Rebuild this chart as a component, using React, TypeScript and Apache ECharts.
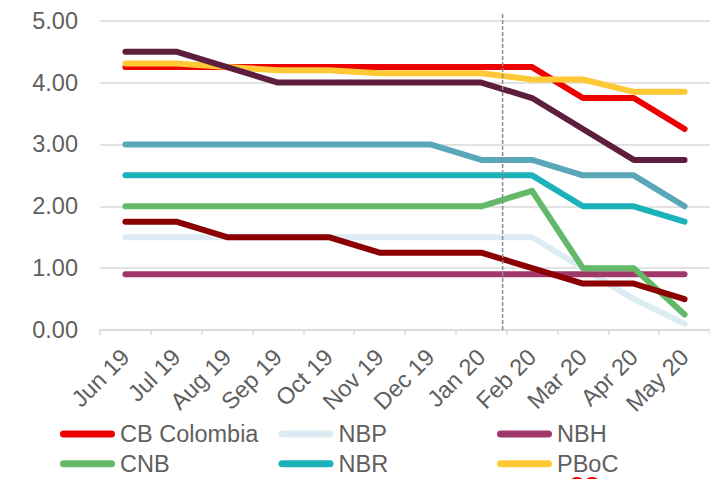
import React, { useEffect, useRef } from "react";
import * as echarts from "echarts";

const categories = ["Jun 19", "Jul 19", "Aug 19", "Sep 19", "Oct 19", "Nov 19", "Dec 19", "Jan 20", "Feb 20", "Mar 20", "Apr 20", "May 20"];
const yTicks = [0, 1, 2, 3, 4, 5];

const cbColombia = [4.25, 4.25, 4.25, 4.25, 4.25, 4.25, 4.25, 4.25, 4.25, 3.75, 3.75, 3.25];
const nbp = [1.5, 1.5, 1.5, 1.5, 1.5, 1.5, 1.5, 1.5, 1.5, 1.0, 0.5, 0.1];
const nbh = [0.9, 0.9, 0.9, 0.9, 0.9, 0.9, 0.9, 0.9, 0.9, 0.9, 0.9, 0.9];
const cnb = [2.0, 2.0, 2.0, 2.0, 2.0, 2.0, 2.0, 2.0, 2.25, 1.0, 1.0, 0.25];
const nbr = [2.5, 2.5, 2.5, 2.5, 2.5, 2.5, 2.5, 2.5, 2.5, 2.0, 2.0, 1.75];
const pboc = [4.31, 4.31, 4.25, 4.2, 4.2, 4.15, 4.15, 4.15, 4.05, 4.05, 3.85, 3.85];
const bsp = [4.5, 4.5, 4.25, 4.0, 4.0, 4.0, 4.0, 4.0, 3.75, 3.25, 2.75, 2.75];
const bnm = [3.0, 3.0, 3.0, 3.0, 3.0, 3.0, 3.0, 2.75, 2.75, 2.5, 2.5, 2.0];
const bot = [1.75, 1.75, 1.5, 1.5, 1.5, 1.25, 1.25, 1.25, 1.0, 0.75, 0.75, 0.5];

const dividerPosition = 7.92; // in category-width units from the axis start
const dividerTop = 5.125;

const seriesDefs = [
  { name: "CB Colombia", data: cbColombia, color: "#EE0000" },
  { name: "NBP", data: nbp, color: "#DDEBF2" },
  { name: "NBH", data: nbh, color: "#A0386A" },
  { name: "CNB", data: cnb, color: "#64B968" },
  { name: "NBR", data: nbr, color: "#1BB2BA" },
  { name: "PBoC", data: pboc, color: "#FFC935" },
  { name: "BSP", data: bsp, color: "#5E1F3F" },
  { name: "BNM", data: bnm, color: "#5BA7BA" },
  { name: "BoT", data: bot, color: "#8B0000" },
];

const FONT = "'Liberation Sans', Arial, sans-serif";
const TXT = "#5F5F5F";

export default function App() {
  const ref = useRef<HTMLDivElement>(null);
  useEffect(() => {
    if (!ref.current) return;
    const chart = echarts.init(ref.current, undefined, { renderer: "svg" });
    const legendBase = {
      orient: "vertical" as const,
      top: 422,
      itemWidth: 55,
      itemHeight: 7,
      itemGap: 5.7,
      icon: "path://M3.5,0 L51.5,0 A3.5,3.5 0 0 1 51.5,7 L3.5,7 A3.5,3.5 0 0 1 3.5,0 Z",
      textStyle: { fontSize: 23.5, color: TXT, fontFamily: FONT, lineHeight: 23 },
      padding: 0,
    };
    chart.setOption({
      animation: false,
      backgroundColor: "#FFFFFF",
      textStyle: { fontFamily: FONT },
      grid: { left: 100, top: 20.7, width: 612, height: 309.3, containLabel: false },
      legend: [
        { ...legendBase, left: 60, data: ["CB Colombia", "CNB"] },
        { ...legendBase, left: 278.5, data: ["NBP", "NBR"] },
        { ...legendBase, left: 497, data: ["NBH", "PBoC"] },
      ],
      xAxis: [
        {
          type: "category",
          data: categories,
          boundaryGap: true,
          axisLine: { lineStyle: { color: "#D9D9D9", width: 1.5 } },
          axisTick: { show: true, length: 5, lineStyle: { color: "#D9D9D9", width: 1.5 } },
          axisLabel: { rotate: 45, fontSize: 23.5, color: TXT, fontFamily: FONT, margin: 23, interval: 0 },
          splitLine: { show: false },
        },
        { type: "value", min: 0, max: 12, show: false },
      ],
      yAxis: {
        type: "value",
        min: yTicks[0],
        max: yTicks[yTicks.length - 1],
        interval: 1,
        axisLine: { show: false },
        axisTick: { show: false },
        axisLabel: {
          fontSize: 23.5,
          color: TXT,
          fontFamily: FONT,
          margin: 22,
          formatter: (v: number) => v.toFixed(2),
        },
        splitLine: { lineStyle: { color: "#D9D9D9", width: 1.5 } },
      },
      series: [
        ...seriesDefs.map((s) => ({
          name: s.name,
          type: "line",
          data: s.data,
          showSymbol: false,
          symbol: "none",
          color: s.color,
          lineStyle: { color: s.color, width: 6, cap: "round", join: "round" },
          itemStyle: { color: s.color },
        })),
        {
          name: "divider",
          type: "line",
          xAxisIndex: 1,
          data: [
            [dividerPosition, yTicks[0]],
            [dividerPosition, dividerTop],
          ],
          clip: false,
          showSymbol: false,
          symbol: "none",
          lineStyle: { color: "#8C8C8C", width: 1.5, type: [4, 2] },
          silent: true,
          z: 5,
        },
      ],
      graphic: [
        { type: "ring", shape: { cx: 577, cy: 486, r: 9, r0: 6 }, style: { fill: "#EE0000" } },
        { type: "ring", shape: { cx: 592, cy: 486, r: 9, r0: 6 }, style: { fill: "#EE0000" } },
      ],
    });
    return () => chart.dispose();
  }, []);
  return (
    <div
      ref={ref}
      style={{ position: "fixed", left: 0, top: 0, width: 710, height: 479, background: "#fff" }}
    />
  );
}
